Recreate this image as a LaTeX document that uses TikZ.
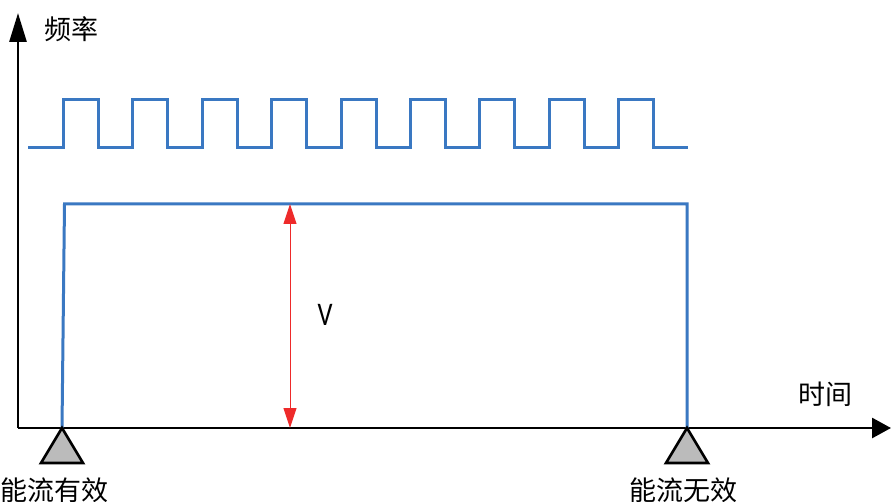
\documentclass[tikz,border=0pt]{standalone}
\usepackage{fontspec}
\setmainfont{Carlito}
\newfontfamily\cjk{Noto Sans CJK SC}
\usetikzlibrary{arrows.meta}
\definecolor{plotAxis}{HTML}{000000}
\definecolor{plotSignal}{HTML}{3A78C2}
\definecolor{plotMark}{HTML}{EE2A2A}
\definecolor{plotSupport}{HTML}{BBBBBB}

\begin{document}
\begin{tikzpicture}[
    x=1pt,y=-1pt,
    every node/.style={inner sep=0pt},
    axis/.style={draw=plotAxis,line width=2.8pt},
    signal/.style={draw=plotSignal,line width=3pt,line join=miter},
    span/.style={draw=plotMark,line width=1pt,{Triangle[length=20pt,width=13pt]}-{Triangle[length=20pt,width=13pt]}},
    support/.style={draw=plotAxis,fill=plotSupport,line width=2.6pt,line join=miter},
    cjklabel/.style={font=\cjk\fontsize{27}{30}\selectfont}
]
\useasboundingbox (0,0) rectangle (891,502);

% axes
\coordinate (origin) at (18,428);
\coordinate (xtip) at (891,428);
\coordinate (ytip) at (18,13);
\draw[axis,-{Triangle[length=19pt,width=20pt]}] (origin) -- (xtip);
\draw[axis,-{Triangle[length=29pt,width=17pt]}] (origin) -- (ytip);
\node[cjklabel] (ylab) at (71,29) {频率};
\node[cjklabel] (xlab) at (825,394) {时间};

% pulse train
\draw[signal] (28,148)
  \foreach \k in {0,...,8} {
    -- ({63.5+69.4*\k},148) -- ({63.5+69.4*\k},100)
    -- ({98.5+69.4*\k},100) -- ({98.5+69.4*\k},148)
  } -- (688,148);

% valid window
\coordinate (on) at (62,428);
\coordinate (off) at (687,428);
\draw[signal] (on) -- (64.5,204) -- (687,204) -- (off);

% amplitude
\coordinate (vtop) at (290,204);
\coordinate (vbot) at (290,428);
\draw[span] (vbot) -- (vtop);
\node[xscale=0.8] (vlab) at (325,315) {\fontsize{33}{36}\selectfont V};

% supports
\draw[support] (on) -- ++(21,35) -- ++(-42,0) -- cycle;
\draw[support] (off) -- ++(21,35) -- ++(-42,0) -- cycle;
\node[cjklabel] (onlab) at (54,490) {能流有效};
\node[cjklabel] (offlab) at (683,490) {能流无效};
\end{tikzpicture}
\end{document}
